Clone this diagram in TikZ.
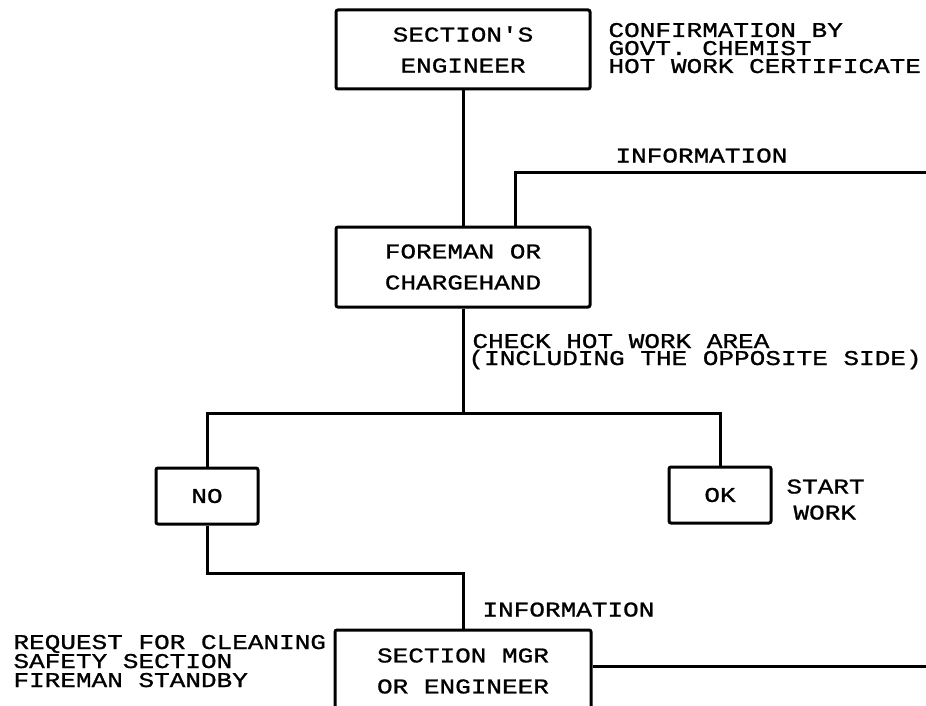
\documentclass[tikz,border=0pt]{standalone}
\usepackage{fontspec}
\newfontfamily\tw[FakeStretch=1.24,FakeBold=1]{Liberation Mono}
\begin{document}
\begin{tikzpicture}[x=1pt,y=-1pt,
  line width=3pt,
  box/.style={draw, line width=3pt, rounded corners=2pt, inner sep=0pt, align=center,
    font=\tw\fontsize{21}{31}\selectfont},
  txt/.style={font=\tw\fontsize{21}{16}\selectfont, inner sep=0pt, anchor=base west},
]
\path[use as bounding box, fill=white] (0,0) rectangle (926,706);
\begin{scope}
\clip (0,0) rectangle (926,706);
% boxes
\node[box, minimum width=254pt, minimum height=79pt] (eng) at (463,49.5) {SECTION'S\\ENGINEER};
\node[box, minimum width=254pt, minimum height=80pt] (fore) at (463,267) {FOREMAN OR\\CHARGEHAND};
\node[box, minimum width=102pt, minimum height=56pt] (no) at (207,496) {NO};
\node[box, minimum width=102pt, minimum height=56pt] (ok) at (720,495) {OK};
\node[box, minimum width=256pt, minimum height=82pt] (mgr) at (463,671) {SECTION MGR\\OR ENGINEER};
% free ends and junctions
\coordinate (infoR) at (930,172);
\coordinate (br) at (463,413);
\coordinate (jn) at (463,573);
\coordinate (mgrR) at (930,666);
% connectors
\draw (eng.south) -- (fore.north);
\draw ([xshift=52pt]fore.north) |- (infoR);
\draw (fore.south) -- (br);
\draw (no.north) |- (br) -| (ok.north);
\draw (no.south) |- (jn) -- (mgr.north);
\draw (mgr.east |- mgrR) -- (mgrR);
% texts
\node[txt] (conf1) at (607,37) {CONFIRMATION BY};
\node[txt] (conf2) at (607,55) {GOVT. CHEMIST};
\node[txt] (conf3) at (607,73) {HOT WORK CERTIFICATE};
\node[txt] (info1) at (614,162.5) {INFORMATION};
\node[txt] (chk1) at (471,348) {CHECK HOT WORK AREA};
\node[txt] (chk2) at (467,365) {(INCLUDING THE OPPOSITE SIDE)};
\node[txt] (start) at (785,493.5) {START};
\node[txt] (work) at (792,519.5) {WORK};
\node[txt] (info2) at (481,616.5) {INFORMATION};
\node[txt] (req1) at (12,649) {REQUEST FOR CLEANING};
\node[txt] (req2) at (12,668) {SAFETY SECTION};
\node[txt] (req3) at (12,687) {FIREMAN STANDBY};
\end{scope}
\end{tikzpicture}
\end{document}
